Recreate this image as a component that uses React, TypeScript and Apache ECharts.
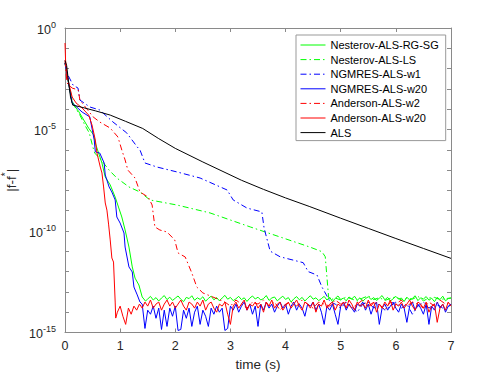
import React, { useEffect, useRef } from 'react';
import * as echarts from 'echarts';

// x axis ticks (time, s)
const xTickValues = [0, 1, 2, 3, 4, 5, 6, 7];
// y axis: log10 |f - f*| range; labelled exponents
const yMinExp = -15;
const yMaxExp = 0;
const yLabelledExps = [0, -5, -10, -15];

const seriesNames = [
  'Nesterov-ALS-RG-SG',
  'Nesterov-ALS-LS',
  'NGMRES-ALS-w1',
  'NGMRES-ALS-w20',
  'Anderson-ALS-w2',
  'Anderson-ALS-w20',
  'ALS',
];

// descent parts: [time (s), log10 |f-f*|]
const nesterovRgSgDescent = [
  [0, -1.72], [0.054, -2.56], [0.13, -3.69], [0.25, -4.12], [0.34, -4.53], [0.43, -4.94],
  [0.52, -5.27], [0.56, -5.76], [0.67, -6.65], [0.73, -7.34], [0.82, -7.73], [0.91, -8.33],
  [0.97, -8.82], [1.03, -9.31], [1.09, -9.95], [1.16, -10.79], [1.22, -11.77], [1.27, -12.32],
  [1.34, -12.66], [1.40, -13.25], [1.46, -13.45],
];
const nesterovRgSgNoiseStart = 1.5;
const nesterovRgSgNoise = [
  -13.35, -13.22, -13.40, -13.28, -13.45, -13.30, -13.18, -13.38, -13.26, -13.42,
  -13.31, -13.20, -13.36, -13.48, -13.27, -13.33, -13.19, -13.41, -13.29, -13.37,
  -13.24, -13.46, -13.32, -13.21, -13.39, -13.28, -13.44, -13.30, -13.17, -13.36,
  -13.27, -13.43, -13.34, -13.22, -13.38, -13.29, -13.47, -13.31, -13.20, -13.35,
  -13.26, -13.40, -13.33, -13.18, -13.42, -13.30, -13.25, -13.44, -13.32, -13.21,
  -13.37, -13.28, -13.50, -13.34, -13.23, -13.39, -13.27, -13.45, -13.31, -13.19,
  -13.36, -13.29, -13.43, -13.33, -13.22, -13.40, -13.26, -13.48, -13.32, -13.20,
  -13.38, -13.30, -13.44, -13.25, -13.35, -13.21, -13.41, -13.29, -13.46, -13.33,
  -13.24, -13.37, -13.28, -13.42, -13.31, -13.18, -13.39, -13.27, -13.45, -13.34,
  -13.22, -13.36, -13.30, -13.47, -13.26, -13.40, -13.32, -13.19, -13.43, -13.29,
  -13.35, -13.23, -13.41, -13.31, -13.48, -13.27, -13.38, -13.21, -13.44, -13.33, -13.30,
];

const nesterovLsDescent = [
  [0, -1.72], [0.054, -2.56], [0.13, -3.55], [0.18, -3.89], [0.27, -4.29], [0.36, -4.78],
  [0.44, -5.17], [0.51, -5.91], [0.54, -6.16], [0.67, -6.55], [0.80, -7.0], [0.94, -7.39],
  [1.16, -7.83], [1.36, -8.08], [1.54, -8.47], [2.03, -8.72], [2.63, -9.11], [3.36, -9.80],
  [3.95, -10.34], [4.44, -10.79], [4.66, -11.02], [4.72, -11.27], [4.75, -12.27],
  [4.78, -13.25], [4.81, -13.4],
];
const nesterovLsNoiseStart = 4.9;
const nesterovLsNoise = [
  -13.3, -13.4, -13.25, -13.35, -13.45, -13.3, -13.2, -13.38, -13.28, -13.42, -13.32,
  -13.24, -13.4, -13.3, -13.36, -13.22, -13.44, -13.3, -13.27, -13.38, -13.33, -13.3,
];

const ngmresW1Descent = [
  [0, -1.72], [0.054, -2.32], [0.145, -2.81], [0.236, -2.96], [0.27, -3.55], [0.45, -3.89],
  [0.63, -4.04], [0.87, -4.63], [1.12, -5.17], [1.31, -5.86], [1.36, -6.01], [1.45, -6.65],
  [1.67, -6.85], [2.03, -7.09], [2.45, -7.39], [2.94, -7.98], [3.05, -8.47], [3.30, -8.87],
  [3.57, -9.06], [3.61, -9.85], [3.72, -10.99], [3.90, -11.27], [4.32, -11.56], [4.41, -12.0],
  [4.57, -12.17], [4.66, -12.76], [4.77, -13.3], [4.81, -13.5],
];
const ngmresW1NoiseStart = 4.9;
const ngmresW1Noise = [
  -13.6, -13.8, -13.5, -13.7, -14.0, -13.6, -13.5, -13.8, -13.6, -13.9, -13.7,
  -13.5, -13.8, -13.6, -14.1, -13.7, -13.5, -13.8, -13.6, -13.7, -13.9, -13.6,
];

const ngmresW20Descent = [
  [0, -1.72], [0.054, -2.56], [0.13, -3.69], [0.31, -4.14], [0.45, -4.38], [0.53, -5.52],
  [0.55, -6.1], [0.63, -6.16], [0.71, -6.65], [0.73, -7.24], [0.80, -7.83], [0.85, -8.08],
  [0.91, -8.47], [0.94, -9.31], [1.0, -9.61], [1.07, -10.10], [1.09, -10.79], [1.16, -11.77],
  [1.22, -12.02], [1.25, -12.76], [1.31, -13.15], [1.36, -13.5],
];
const ngmresW20NoiseStart = 1.4;
const ngmresW20Noise = [
  -13.6, -14.8, -13.9, -14.1, -13.7, -14.3, -13.8, -14.85, -13.9, -14.7,
  -13.8, -14.2, -13.7, -14.9, -14.85, -13.9, -14.3, -13.8, -14.7, -14.0,
  -13.7, -14.6, -13.9, -14.2, -14.7, -13.8, -14.1, -13.7, -14.0, -13.8,
  -14.9, -14.8, -13.7, -13.9, -13.6, -14.0, -13.7, -13.5, -13.9, -13.6,
  -14.1, -13.7, -14.7, -13.6, -13.9, -13.5, -13.8, -13.6, -14.0, -13.7,
  -13.5, -13.8, -13.6, -14.1, -13.7, -13.5, -13.9, -13.6, -13.8, -14.2,
  -13.6, -13.7, -13.5, -13.9, -13.6, -14.0, -14.6, -13.7, -13.9, -13.6,
  -14.1, -14.6, -13.7, -13.5, -13.9, -13.6, -13.8, -14.0, -13.6, -13.7,
  -13.5, -13.9, -13.6, -14.1, -13.7, -13.5, -14.6, -13.8, -13.6, -13.9,
  -13.7, -13.5, -13.8, -14.0, -13.6, -13.8, -14.5, -13.7, -13.5, -13.9,
  -13.6, -13.8, -14.1, -13.6, -14.6, -13.7, -13.9, -13.5, -13.8, -13.6,
  -14.0, -13.7, -13.6,
];

const andersonW2Descent = [
  [0, -1.6], [0.036, -2.71], [0.13, -2.96], [0.24, -3.05], [0.27, -3.55], [0.51, -4.38],
  [0.63, -4.63], [0.82, -4.93], [0.96, -5.37], [1.03, -6.01], [1.09, -6.50], [1.14, -7.0],
  [1.27, -7.39], [1.36, -8.08], [1.51, -8.33], [1.58, -8.72], [1.63, -9.80], [1.72, -9.95],
  [1.85, -10.05], [1.99, -10.44], [2.05, -11.08], [2.18, -11.28], [2.30, -12.07],
  [2.39, -12.76], [2.50, -13.05], [2.59, -13.15], [2.77, -13.35],
];
const andersonW2NoiseStart = 2.9;
const andersonW2Noise = [
  -13.5, -13.7, -13.4, -13.6, -13.8, -13.5, -13.6, -13.4, -13.7, -13.5,
  -13.9, -13.6, -13.5, -13.7, -13.4, -13.6, -13.8, -13.5, -13.6, -13.7,
  -13.4, -13.6, -13.5, -13.8, -13.6, -13.4, -13.7, -13.5, -13.6, -13.9,
  -13.5, -13.6, -13.4, -13.7, -13.5, -13.6, -13.8, -13.5, -13.7, -13.4,
  -13.6, -13.5,
];

const andersonW20Descent = [
  [0, -0.74], [0.01, -1.58], [0.036, -2.32], [0.09, -2.96], [0.13, -3.40], [0.2, -3.69],
  [0.31, -3.94], [0.43, -4.29], [0.49, -4.78], [0.55, -5.52], [0.58, -6.16], [0.64, -6.85],
  [0.67, -7.14], [0.70, -7.83], [0.73, -8.62], [0.76, -8.97], [0.79, -9.66], [0.82, -10.44],
  [0.85, -11.33], [0.88, -11.53], [0.91, -13.5], [0.92, -14.29],
];
const andersonW20NoiseStart = 0.95;
const andersonW20Noise = [
  -14.0, -13.7, -14.2, -14.6, -13.8, -14.1, -13.7, -13.9, -13.6, -13.8,
  -13.5, -13.7, -13.4, -13.8, -13.6, -13.5, -13.9, -13.6, -13.4, -13.7,
  -13.5, -13.8, -13.6, -13.4, -13.7, -13.9, -13.5, -13.6, -13.8, -13.5,
  -13.7, -13.4, -13.9, -13.6, -13.5, -13.8, -14.0, -13.6, -13.7, -13.5,
  -14.1, -14.6, -13.7, -13.5, -13.8, -13.6, -13.4, -13.9, -13.6, -13.7,
  -13.5, -13.8, -13.6, -14.0, -13.5, -13.7, -13.4, -13.8, -13.6, -13.5,
  -13.9, -13.7, -13.5, -13.8, -13.6, -13.4, -13.7, -13.9, -13.5, -13.6,
  -13.8, -13.5, -14.0, -13.6, -13.7, -13.4, -13.8, -13.6, -13.5, -13.9,
  -13.6, -13.7, -13.5, -13.8, -13.4, -13.6, -13.9, -13.5, -13.7, -13.6,
  -13.8, -13.4, -13.7, -13.5, -14.0, -13.6, -13.8, -13.5, -13.7, -13.4,
  -13.9, -13.6, -13.7, -13.5, -13.8, -13.6, -13.4, -13.7, -13.9, -13.5,
  -13.6, -13.8, -13.5, -14.0, -13.7, -13.6, -14.5, -13.8, -13.6, -13.9,
  -13.5, -13.7,
];

const alsCurve = [
  [0, -1.6], [0.03, -1.85], [0.06, -2.55], [0.1, -3.4], [0.14, -3.8], [0.27, -3.88],
  [0.55, -4.08], [0.82, -4.29], [1.1, -4.6], [1.41, -4.95], [1.7, -5.45], [2.0, -5.93],
  [2.5, -6.6], [3.2, -7.5], [3.6, -7.95], [4.0, -8.37], [4.44, -8.8], [5.0, -9.37],
  [5.5, -9.87], [6.0, -10.37], [6.5, -10.86], [7.0, -11.35],
];

const noiseStep = 0.05;
const coarseNoiseStep = 0.1;

function withNoise(descent: number[][], start: number, step: number, noise: number[]) {
  const out = descent.map((p) => [p[0], p[1]]);
  noise.forEach((v, i) => out.push([+(start + i * step).toFixed(3), v]));
  return out;
}

const DASHDOT = [6, 3, 1.5, 3];
const FONT = '"Liberation Sans", Arial, Helvetica, sans-serif';
const AXIS_COLOR = '#8a8a8a';
const TEXT_COLOR = '#262626';

export default function App() {
  const ref = useRef<HTMLDivElement>(null);

  useEffect(() => {
    if (!ref.current) return;
    const chart = echarts.init(ref.current, null, { renderer: 'svg' });

    const seriesData = [
      { data: withNoise(nesterovRgSgDescent, nesterovRgSgNoiseStart, noiseStep, nesterovRgSgNoise), color: '#00ff00', dash: 'solid' },
      { data: withNoise(nesterovLsDescent, nesterovLsNoiseStart, coarseNoiseStep, nesterovLsNoise), color: '#00ff00', dash: DASHDOT },
      { data: withNoise(ngmresW1Descent, ngmresW1NoiseStart, coarseNoiseStep, ngmresW1Noise), color: '#0000ff', dash: DASHDOT },
      { data: withNoise(ngmresW20Descent, ngmresW20NoiseStart, noiseStep, ngmresW20Noise), color: '#0000ff', dash: 'solid' },
      { data: withNoise(andersonW2Descent, andersonW2NoiseStart, coarseNoiseStep, andersonW2Noise), color: '#ff0000', dash: DASHDOT },
      { data: withNoise(andersonW20Descent, andersonW20NoiseStart, noiseStep, andersonW20Noise), color: '#ff0000', dash: 'solid' },
      { data: alsCurve, color: '#000000', dash: 'solid' },
    ];

    const axisCommon = {
      axisLine: { show: true, onZero: false, lineStyle: { color: AXIS_COLOR, width: 1 } },
      axisTick: { show: true, inside: true, length: 4, lineStyle: { color: AXIS_COLOR, width: 1 } },
      splitLine: { show: false },
    };

    const option: any = {
      animation: false,
      backgroundColor: '#ffffff',
      textStyle: { fontFamily: FONT },
      grid: { left: 65, right: 47, top: 28, bottom: 41.5, containLabel: false, outerBoundsMode: 'none' },
      legend: {
        orient: 'vertical',
        left: 296,
        top: 35,
        data: seriesNames.map((n, i) => ({
          name: n,
          lineStyle: { color: seriesData[i].color, width: 1, type: seriesData[i].dash },
        })),
        itemWidth: 25,
        itemHeight: 10,
        itemGap: 3.6,
        padding: [4.5, 7, 2.5, 4],
        backgroundColor: '#ffffff',
        borderColor: '#999999',
        borderWidth: 1,
        borderRadius: 0,
        itemStyle: { opacity: 0, borderWidth: 0 },
        lineStyle: { width: 1, inactiveWidth: 1 },
        textStyle: { fontSize: 11, color: '#000000', fontFamily: FONT },
      },
      xAxis: [
        {
          ...axisCommon,
          type: 'value',
          position: 'bottom',
          min: xTickValues[0],
          max: xTickValues[xTickValues.length - 1],
          interval: 1,
          name: 'time (s)',
          nameLocation: 'middle',
          nameGap: 22,
          nameTextStyle: { fontSize: 13.5, color: TEXT_COLOR, fontFamily: FONT },
          axisLabel: { fontSize: 12.5, color: TEXT_COLOR, margin: 7, fontFamily: FONT },
        },
        {
          ...axisCommon,
          type: 'value',
          position: 'top',
          min: xTickValues[0],
          max: xTickValues[xTickValues.length - 1],
          interval: 1,
          axisLabel: { show: false },
        },
      ],
      yAxis: [
        {
          ...axisCommon,
          type: 'value',
          position: 'left',
          min: yMinExp,
          max: yMaxExp,
          interval: 1,
          name: '{t||f-f}{s|*}{t||}',
          nameLocation: 'middle',
          nameRotate: 90,
          nameGap: 26,
          nameTextStyle: {
            color: TEXT_COLOR,
            rich: {
              t: { fontSize: 13.5, color: TEXT_COLOR, fontFamily: FONT, lineHeight: 18, verticalAlign: 'bottom' },
              s: { fontSize: 10, color: TEXT_COLOR, fontFamily: FONT, lineHeight: 10, verticalAlign: 'top' },
            },
          },
          axisLabel: {
            margin: 9,
            showMinLabel: true,
            showMaxLabel: true,
            formatter: (v: number) => {
              const e = Math.round(v);
              return yLabelledExps.includes(e) ? `{b|10}{s|${e}}` : '';
            },
            rich: {
              b: { fontSize: 12.5, color: TEXT_COLOR, fontFamily: FONT, lineHeight: 16, verticalAlign: 'bottom' },
              s: { fontSize: 9, color: TEXT_COLOR, fontFamily: FONT, lineHeight: 9, verticalAlign: 'top' },
            },
          },
        },
        {
          ...axisCommon,
          type: 'value',
          position: 'right',
          min: yMinExp,
          max: yMaxExp,
          interval: 1,
          axisLabel: { show: false },
        },
      ],
      series: seriesData.map((s, i) => ({
        name: seriesNames[i],
        type: 'line',
        xAxisIndex: 0,
        yAxisIndex: 0,
        data: s.data,
        symbol: 'none',
        showSymbol: false,
        color: s.color,
        lineStyle: { color: s.color, width: 1, type: s.dash },
        emphasis: { disabled: true },
        clip: true,
      })),
    };

    chart.setOption(option);
    return () => chart.dispose();
  }, []);

  return (
    <div
      ref={ref}
      style={{ position: 'fixed', left: 0, top: 0, width: 498, height: 374, background: '#fff' }}
    />
  );
}
